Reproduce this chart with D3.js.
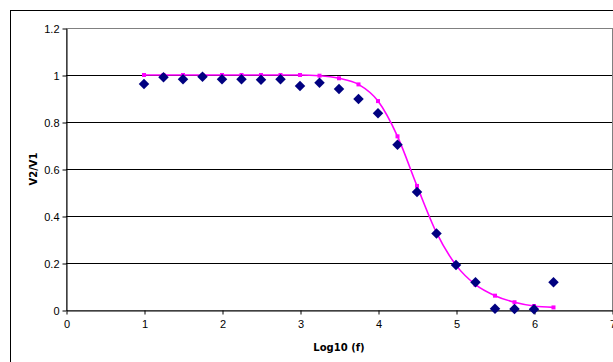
<!DOCTYPE html>
<html>
<head>
<meta charset="utf-8">
<script src="https://cdn.jsdelivr.net/npm/d3@7"></script>
<style>
  body { margin: 0; background: #fff; }
  svg { display: block; font-family: "DejaVu Sans", Verdana, sans-serif; }
</style>
</head>
<body>
<svg id="chart" width="613" height="362"></svg>
<script>
// measured points (blue diamonds)
const logF = [1, 1.25, 1.5, 1.75, 2, 2.25, 2.5, 2.75, 3, 3.25, 3.5, 3.75,
  4, 4.25, 4.5, 4.75, 5, 5.25, 5.5, 5.75, 6, 6.25];
const measured = [0.962, 0.99, 0.982, 0.993, 0.982, 0.982, 0.98, 0.982, 0.953, 0.967, 0.94, 0.898,
  0.837, 0.703, 0.502, 0.326, 0.191, 0.118, 0.005, 0.004, 0.003, 0.118];
// theoretical curve (magenta line)
const theory = [1, 1, 1, 1, 1, 1, 1, 1, 1, 0.997, 0.986, 0.96,
  0.889, 0.739, 0.528, 0.329, 0.191, 0.108, 0.061, 0.033, 0.017, 0.011];
const xTicks = [0, 1, 2, 3, 4, 5, 6, 7];
const yTicks = [0, 0.2, 0.4, 0.6, 0.8, 1, 1.2];

const svg = d3.select("#chart");
const plotLeft = 66, plotRight = 612, plotTop = 28, plotBottom = 310;

const x = d3.scaleLinear().domain([0, 7]).range([plotLeft, plotRight]);
const y = d3.scaleLinear().domain([0, 1.2]).range([plotBottom, plotTop]);

// outer chart frame
svg.append("rect")
  .attr("x", 10.5).attr("y", 10.5)
  .attr("width", 640).attr("height", 400)
  .attr("fill", "none").attr("stroke", "#000");

// plot area frame
svg.append("rect")
  .attr("x", plotLeft + 0.5).attr("y", plotTop + 0.5)
  .attr("width", plotRight - plotLeft).attr("height", plotBottom - plotTop)
  .attr("fill", "none").attr("stroke", "#808080");

// gridlines
svg.append("g")
  .selectAll("line")
  .data(yTicks.filter(d => d > 0 && d < 1.2))
  .enter()
  .append("line")
  .attr("x1", plotLeft).attr("x2", plotRight)
  .attr("y1", d => Math.round(y(d)) + 0.5)
  .attr("y2", d => Math.round(y(d)) + 0.5)
  .attr("stroke", "#000");

// y axis
const yAxis = svg.append("g")
  .attr("transform", "translate(" + (plotLeft + 0.5) + ",0.5)")
  .call(d3.axisLeft(y).tickValues(yTicks).tickSize(4).tickSizeOuter(0).tickPadding(3).tickFormat(d3.format("")));
yAxis.select(".domain").attr("stroke", "#000");
yAxis.selectAll("text").style("font-size", "11px").attr("fill", "#000");

// x axis
const xAxis = svg.append("g")
  .attr("transform", "translate(0.5," + (plotBottom + 0.5) + ")")
  .call(d3.axisBottom(x).tickValues(xTicks).tickSize(4).tickSizeOuter(0).tickPadding(6).tickFormat(d3.format("")));
xAxis.select(".domain").attr("stroke", "#000");
xAxis.selectAll("text").style("font-size", "11px").attr("fill", "#000");

// axis titles
svg.append("text")
  .attr("x", 339).attr("y", 351)
  .attr("text-anchor", "middle")
  .style("font-size", "10px").style("font-weight", "bold")
  .text("Log10 (f)");

svg.append("text")
  .attr("transform", "translate(37,169) rotate(-90)")
  .attr("text-anchor", "middle")
  .style("font-size", "10px").style("font-weight", "bold")
  .text("V2/V1");

// theory curve
const pts = logF.map((d, i) => [d, theory[i]]);
svg.append("path")
  .datum(pts)
  .attr("d", d3.line().x(d => x(d[0])).y(d => y(d[1])).curve(d3.curveMonotoneX))
  .attr("fill", "none")
  .attr("stroke", "#ff00ff")
  .attr("stroke-width", 1.6);

svg.append("g")
  .selectAll("rect")
  .data(pts)
  .enter()
  .append("rect")
  .attr("x", d => x(d[0]) - 2)
  .attr("y", d => y(d[1]) - 2)
  .attr("width", 4).attr("height", 4)
  .attr("fill", "#ff00ff");

// measured diamonds
svg.append("g")
  .selectAll("path")
  .data(logF.map((d, i) => [d, measured[i]]))
  .enter()
  .append("path")
  .attr("transform", d => "translate(" + x(d[0]) + "," + y(d[1]) + ")")
  .attr("d", d3.symbol(d3.symbolDiamond2, 70))
  .attr("fill", "#000080");
</script>
</body>
</html>
